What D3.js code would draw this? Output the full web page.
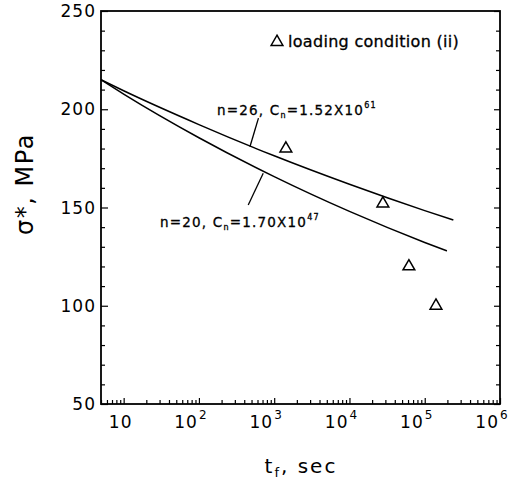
<!DOCTYPE html>
<html>
<head>
<meta charset="utf-8">
<script src="https://cdn.jsdelivr.net/npm/d3@7/dist/d3.min.js"></script>
<style>
  html, body { margin: 0; padding: 0; background: #fff; }
  svg { display: block; }
  text { font-family: "DejaVu Sans", "Liberation Sans", sans-serif; fill: #000; }
</style>
</head>
<body>
<svg id="chart" width="520" height="480"></svg>
<script>
// ---------- data ----------
const curveUpperT     = [5, 10, 100, 1000, 10000, 100000, 240000];
const curveUpperSigma = [215, 209.4, 192.2, 176.3, 161.8, 148.4, 143.6];
const curveLowerT     = [5, 10, 100, 1000, 10000, 100000, 197000];
const curveLowerSigma = [215, 207.7, 185.5, 165.7, 148.0, 132.2, 127.9];
const pointsT     = [1430, 27800, 61600, 141000];
const pointsSigma = [180, 152, 120, 100];
const yTickValues = [50, 100, 150, 200, 250];
const xDecades    = [10, 100, 1000, 10000, 100000, 1000000];
const xDecadeExp  = ["", "2", "3", "4", "5", "6"];
const upperLabel  = {n: "26", c: "1.52", e: "61"};
const lowerLabel  = {n: "20", c: "1.70", e: "47"};
const legendText  = "loading condition (ii)";
const yTitle      = "σ*, MPa";

// ---------- layout ----------
const svg = d3.select("#chart");
const L = 101, R = 500, T = 11, B = 404;
const x = d3.scaleLog().domain([5, 1e6]).range([L, R]);
const y = d3.scaleLinear().domain([50, 250]).range([B, T]);

svg.append("rect").attr("width", 520).attr("height", 480).attr("fill", "#fff");

// frame
svg.append("rect").attr("x", L).attr("y", T).attr("width", R - L).attr("height", B - T)
  .attr("fill", "none").attr("stroke", "#000").attr("stroke-width", 1.8);

// minor/major y ticks
const yMinor = d3.range(50, 251, 10);
function styleAxis(g) {
  g.select(".domain").remove();
  g.selectAll("line").attr("stroke", "#000").attr("stroke-width", 1.2);
}
const yAxisL = d3.axisLeft(y).tickValues(yMinor).tickSize(0).tickFormat("");
svg.append("g").attr("transform", `translate(${L},0)`).call(yAxisL).call(styleAxis)
  .selectAll(".tick line").attr("x2", d => (d % 50 === 0 ? 7 : 4));
const yAxisR = d3.axisRight(y).tickValues(yMinor).tickSize(0).tickFormat("");
svg.append("g").attr("transform", `translate(${R},0)`).call(yAxisR).call(styleAxis)
  .selectAll(".tick line").attr("x2", d => (d % 50 === 0 ? -6 : -4));

// y tick labels
svg.append("g").selectAll("text").data(yTickValues).join("text")
  .attr("x", 96).attr("y", d => y(d) + 6)
  .attr("text-anchor", "end").attr("font-size", 17).attr("letter-spacing", 1)
  .text(d => d);

// x ticks (log minor)
const xTicks = [];
for (let e = 0; e <= 6; e++) for (let m = 1; m <= 9; m++) {
  const v = m * Math.pow(10, e);
  if (v >= 5 && v <= 1e6) xTicks.push(v);
}
const xAxis = d3.axisBottom(x).tickValues(xTicks).tickSize(0).tickFormat("");
svg.append("g").attr("transform", `translate(0,${B})`).call(xAxis).call(styleAxis)
  .selectAll(".tick line").attr("y2", d => {
    const lg = Math.log10(d);
    return Math.abs(lg - Math.round(lg)) < 1e-9 ? -6 : -4;
  });

// x tick labels
const xl = svg.append("g").selectAll("text").data(xDecades).join("text")
  .attr("x", (d, i) => x(d) - (i === 0 ? 3 : 8)).attr("y", 428)
  .attr("text-anchor", "middle").attr("font-size", 17).attr("letter-spacing", 1);
xl.append("tspan").text("10");
xl.append("tspan").attr("font-size", 12).attr("dy", -9).attr("dx", 1)
  .text((d, i) => xDecadeExp[i]);

// axis titles
const xt = svg.append("text").attr("x", 301).attr("y", 473).attr("text-anchor", "middle")
  .attr("font-size", 20).attr("letter-spacing", 2);
xt.append("tspan").text("t");
xt.append("tspan").attr("font-size", 13).attr("dy", 4).text("f");
xt.append("tspan").attr("dy", -4).text(", sec");

svg.append("text").attr("transform", "translate(33,184) rotate(-90)")
  .attr("text-anchor", "middle").attr("font-size", 24).attr("letter-spacing", 1.5)
  .text(yTitle);

// curves
const line = d3.line().x(d => x(d[0])).y(d => y(d[1])).curve(d3.curveMonotoneX);
const upper = curveUpperT.map((t, i) => [t, curveUpperSigma[i]]);
const lower = curveLowerT.map((t, i) => [t, curveLowerSigma[i]]);
[upper, lower].forEach(c => svg.append("path").attr("d", line(c))
  .attr("fill", "none").attr("stroke", "#000").attr("stroke-width", 1.5));

// leader lines
svg.append("line").attr("x1", x(476)).attr("y1", y(180.9)).attr("x2", x(618)).attr("y2", y(195.5))
  .attr("stroke", "#000").attr("stroke-width", 1.3);
svg.append("line").attr("x1", x(715)).attr("y1", y(167.4)).attr("x2", x(452)).attr("y2", y(151.3))
  .attr("stroke", "#000").attr("stroke-width", 1.3);

// curve labels
function curveLabel(lbl, px, py) {
  const t = svg.append("text").attr("x", px).attr("y", py).attr("font-size", 13.5)
    .attr("letter-spacing", 1.2).attr("stroke", "#000").attr("stroke-width", 0.3);
  t.append("tspan").text(`n=${lbl.n}, C`);
  t.append("tspan").attr("font-size", 8).attr("dy", 3).text("n");
  t.append("tspan").attr("dy", -3).text(`=${lbl.c}X10`);
  t.append("tspan").attr("font-size", 8).attr("dy", -7).text(lbl.e);
}
curveLabel(upperLabel, 217, 115);
curveLabel(lowerLabel, 160, 227);

// data points (open triangles)
const tri = d3.symbol().type(d3.symbolTriangle).size(60);
svg.append("g").selectAll("path").data(pointsT).join("path")
  .attr("transform", (d, i) => `translate(${x(d)},${y(pointsSigma[i])})`)
  .attr("d", tri).attr("fill", "none").attr("stroke", "#000").attr("stroke-width", 1.5);

// legend
svg.append("path").attr("transform", "translate(277,42)").attr("d", tri)
  .attr("fill", "none").attr("stroke", "#000").attr("stroke-width", 1.5);
svg.append("text").attr("x", 288).attr("y", 47).attr("font-size", 16).attr("letter-spacing", 0.3)
  .attr("stroke", "#000").attr("stroke-width", 0.3)
  .text(legendText);
</script>
</body>
</html>
